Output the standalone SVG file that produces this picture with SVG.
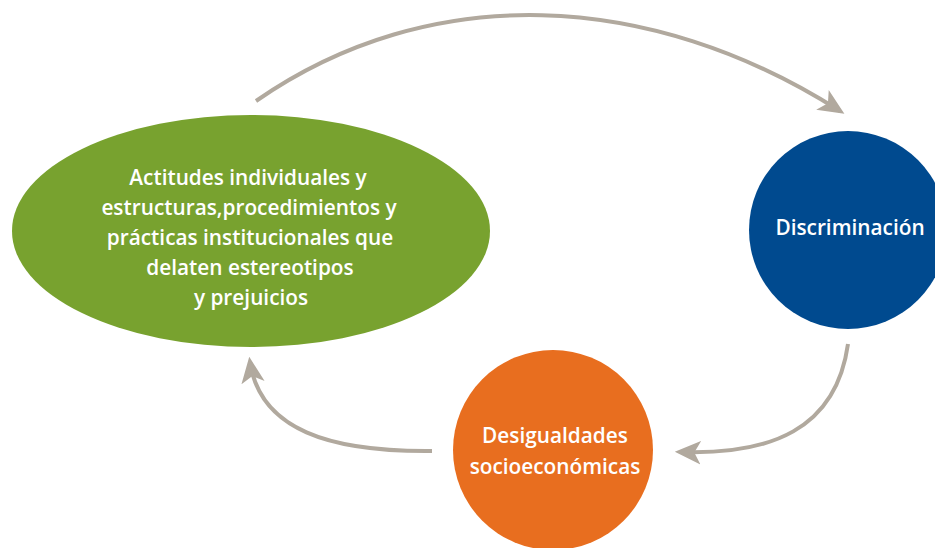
<svg xmlns="http://www.w3.org/2000/svg" width="935" height="548" viewBox="0 0 935 548">
<style>
.lbl{font-family:"Open Sans","Noto Sans","DejaVu Sans",sans-serif;font-weight:600;font-size:20.8px;fill:#ffffff;text-anchor:middle}
.con{fill:none;stroke:#b1a99e;stroke-width:4;stroke-linecap:butt}
</style>
<defs>
<marker id="ah" viewBox="0 0 10 10" refX="8" refY="5" markerWidth="6.5" markerHeight="6.5" markerUnits="strokeWidth" orient="auto">
<path d="M0,0.5 L10,5 L0,9.5 L2.5,5 Z" fill="#b1a99e"/>
</marker>
</defs>
<rect width="935" height="548" fill="#ffffff"/>
<g id="connectors">
<path class="con" d="M256,101 C430,-20 650,-10 840,111" marker-end="url(#ah)"/>
<path class="con" d="M848,344 C836,430 770,455 680,452" marker-end="url(#ah)"/>
<path class="con" d="M432,451 C330,452 260,430 250,362" marker-end="url(#ah)"/>
</g>
<g id="node-actitudes">
<ellipse cx="251" cy="231" rx="239" ry="116" fill="#78a22f"/>
<text class="lbl"><tspan x="248" y="185">Actitudes individuales y</tspan><tspan x="249" y="215">estructuras,procedimientos y</tspan><tspan x="250" y="245">prácticas institucionales que</tspan><tspan x="250" y="275">delaten estereotipos</tspan><tspan x="251" y="305">y prejuicios</tspan></text>
</g>
<g id="node-discriminacion">
<circle cx="848" cy="230" r="99" fill="#004a8f"/>
<text class="lbl" x="850" y="235">Discriminación</text>
</g>
<g id="node-desigualdades">
<circle cx="553" cy="450" r="100" fill="#e86e1f"/>
<text class="lbl"><tspan x="555" y="443">Desigualdades</tspan><tspan x="555" y="474">socioeconómicas</tspan></text>
</g>
</svg>
